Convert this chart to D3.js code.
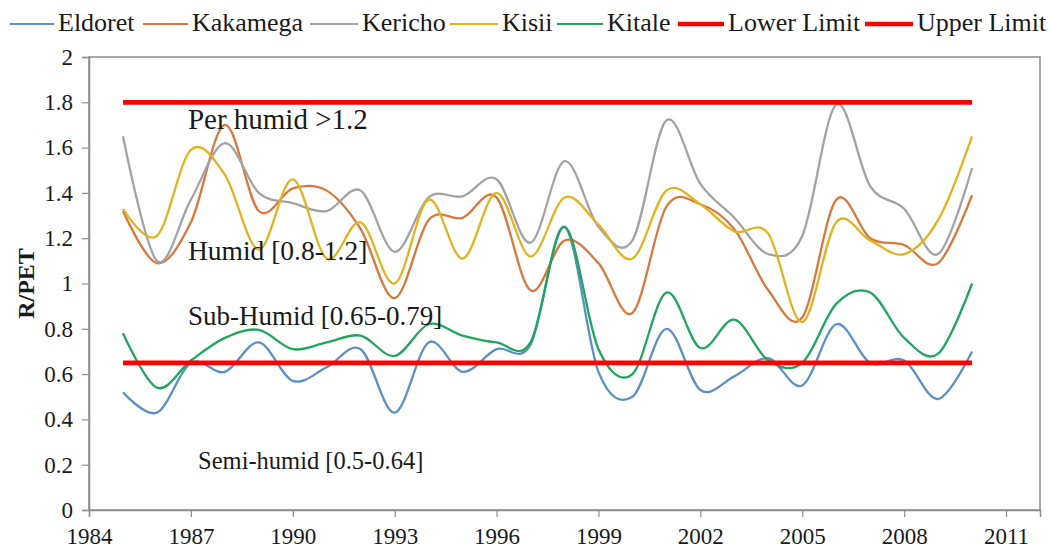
<!DOCTYPE html>
<html>
<head>
<meta charset="utf-8">
<script src="https://cdn.jsdelivr.net/npm/d3@7"></script>
<style>
  html, body { margin: 0; padding: 0; background: #fff; }
  svg { display: block; }
  text { font-family: "Liberation Serif", "Times New Roman", serif; fill: #1a1a1a; }
</style>
</head>
<body>
<svg id="chart" width="1050" height="548"></svg>
<script>
// Annual rainfall / potential evapotranspiration ratio per station
const years = d3.range(1985, 2011);
const eldoret  = [0.52,0.43,0.65,0.61,0.74,0.57,0.63,0.71,0.43,0.74,0.61,0.71,0.73,1.25,0.61,0.50,0.80,0.53,0.59,0.67,0.55,0.82,0.65,0.66,0.49,0.70];
const kakamega = [1.32,1.09,1.27,1.70,1.32,1.42,1.41,1.24,0.935,1.28,1.29,1.38,0.97,1.19,1.09,0.87,1.34,1.35,1.24,0.97,0.85,1.37,1.20,1.17,1.09,1.39];
const kericho  = [1.65,1.10,1.37,1.62,1.40,1.355,1.32,1.41,1.14,1.38,1.385,1.46,1.18,1.54,1.25,1.19,1.72,1.44,1.29,1.13,1.21,1.79,1.43,1.33,1.13,1.51];
const kisii    = [1.33,1.21,1.59,1.48,1.15,1.46,1.11,1.27,1.00,1.37,1.11,1.40,1.12,1.38,1.26,1.11,1.41,1.35,1.23,1.22,0.83,1.27,1.19,1.13,1.28,1.65];
const kitale   = [0.78,0.54,0.66,0.76,0.795,0.71,0.74,0.77,0.68,0.82,0.77,0.74,0.74,1.25,0.71,0.60,0.96,0.715,0.84,0.66,0.65,0.91,0.96,0.76,0.69,1.00];
const lowerLimit = years.map(() => 0.65);
const upperLimit = years.map(() => 1.8);

const seriesNames = ["Eldoret", "Kakamega", "Kericho", "Kisii", "Kitale", "Lower Limit", "Upper Limit"];
const seriesValues = [eldoret, kakamega, kericho, kisii, kitale, lowerLimit, upperLimit];
const seriesColors = ["#5b8fc6", "#d9783a", "#a3a3a3", "#e3b21f", "#1fa65c", "#ff0000", "#ff0000"];
const seriesWidths = [2.3, 2.3, 2.3, 2.3, 2.3, 4.8, 4.8];

const xTicks = d3.range(1984, 2012, 3);
const yTicks = d3.range(0, 2.01, 0.2);

const zones = [
  { text: "Per humid >1.2", year: 1987, value: 1.71, size: 29 },
  { text: "Humid [0.8-1.2]", year: 1987, value: 1.13, size: 27.5 },
  { text: "Sub-Humid [0.65-0.79]", year: 1987, value: 0.845, size: 27 },
  { text: "Semi-humid [0.5-0.64]", year: 1987.3, value: 0.205, size: 24.5 }
];

const svg = d3.select("#chart");
const plot = { left: 89, right: 1040, top: 57, bottom: 510 };

const x = d3.scaleLinear().domain([1984, 2012]).range([plot.left, plot.right]);
const y = d3.scaleLinear().domain([0, 2]).range([plot.bottom, plot.top]);

// plot-area frame
svg.append("rect")
  .attr("x", plot.left).attr("y", plot.top)
  .attr("width", plot.right - plot.left).attr("height", plot.bottom - plot.top)
  .attr("fill", "none").attr("stroke", "#8c8c8c").attr("stroke-width", 1.5);

// axes
const xAxis = svg.append("g")
  .attr("transform", `translate(0,${plot.bottom})`)
  .call(d3.axisBottom(x).tickValues(xTicks).tickFormat(d3.format("d")).tickSizeOuter(0).tickSize(7).tickPadding(10));
const yAxis = svg.append("g")
  .attr("transform", `translate(${plot.left},0)`)
  .call(d3.axisLeft(y).tickValues(yTicks).tickFormat(d => d3.format("~g")(+d.toFixed(1))).tickSizeOuter(0).tickSize(7).tickPadding(9));

[xAxis, yAxis].forEach(g => {
  g.select(".domain").attr("stroke", "#8c8c8c").attr("stroke-width", 1.5);
  g.selectAll(".tick line").attr("stroke", "#8c8c8c").attr("stroke-width", 1.2);
  g.selectAll(".tick text").attr("font-size", 23).attr("fill", "#1a1a1a")
    .attr("font-family", "\"Liberation Serif\", \"Times New Roman\", serif");
});
xAxis.selectAll(".tick text").attr("dy", "0.75em");

// y-axis title
svg.append("text")
  .attr("transform", `translate(34,${(plot.top + plot.bottom) / 2}) rotate(-90)`)
  .attr("text-anchor", "middle")
  .attr("font-size", 24).attr("font-weight", "bold")
  .text("R/PET");

// smoothed series
const line = d3.line()
  .x((d, i) => x(years[i]))
  .y(d => y(d))
  .curve(d3.curveCardinal.tension(0));

seriesValues.forEach((vals, k) => {
  svg.append("path")
    .datum(vals)
    .attr("fill", "none")
    .attr("stroke", seriesColors[k])
    .attr("stroke-width", seriesWidths[k])
    .attr("stroke-linejoin", "round")
    .attr("d", line);
});

// zone labels
zones.forEach(z => {
  svg.append("text")
    .attr("x", x(z.year) - 3)
    .attr("y", y(z.value))
    .attr("font-size", z.size)
    .attr("dominant-baseline", "middle")
    .text(z.text);
});

// legend
const legendItems = [
  { lx: 10, tx: 58 }, { lx: 143, tx: 192 }, { lx: 310, tx: 362 },
  { lx: 450, tx: 502 }, { lx: 557, tx: 607 }, { lx: 678, tx: 728 }, { lx: 865, tx: 917 }
];
const legend = svg.append("g");
seriesNames.forEach((name, k) => {
  const it = legendItems[k];
  legend.append("line")
    .attr("x1", it.lx).attr("x2", it.tx - 4)
    .attr("y1", 24).attr("y2", 24)
    .attr("stroke", seriesColors[k])
    .attr("stroke-width", seriesWidths[k] > 3 ? 4.5 : 2.2);
  legend.append("text")
    .attr("x", it.tx).attr("y", 31)
    .attr("font-size", 26)
    .text(name);
});
</script>
</body>
</html>
